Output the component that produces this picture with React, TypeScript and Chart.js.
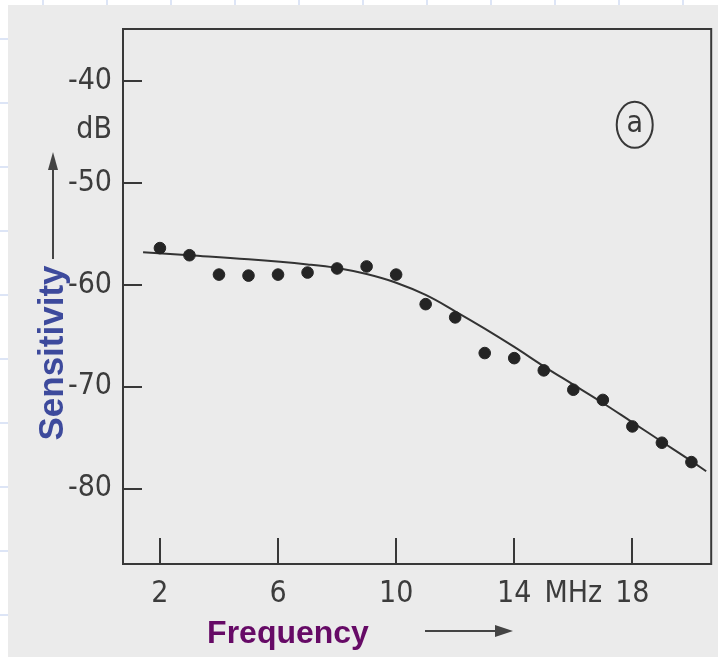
import React, { useEffect, useRef } from "react";
import { Chart, registerables } from "chart.js";

Chart.register(...registerables);

// ---- data ----
const freqMHz = [2, 3, 4, 5, 6, 7, 8, 9, 10, 11, 12, 13, 14, 15, 16, 17, 18, 19, 20];
const sensitivityDb = [
  -56.4, -57.1, -59.0, -59.1, -59.0, -58.8, -58.4, -58.2, -59.0, -61.9,
  -63.2, -66.7, -67.2, -68.4, -70.3, -71.3, -73.9, -75.5, -77.4,
];
const curveMHz = [1.43, 3, 5, 7, 8, 9, 10, 11, 12, 13, 14, 15, 16, 17, 18, 19, 20, 20.5];
const curveDb = [
  -56.8, -57.1, -57.5, -58.0, -58.35, -58.95, -59.8, -61.0, -62.6, -64.3,
  -66.1, -68.0, -69.8, -71.6, -73.5, -75.4, -77.3, -78.3,
];
const xTickValues = [2, 6, 10, 14, 18];
const xUnitValue = 16;
const xUnitLabel = "MHz";
const yTickValues = [-40, -50, -60, -70, -80];
const yUnitValue = -44.8;
const yUnitLabel = "dB";
const xRange = [0.75, 20.67];
const yRange = [-87.4, -34.9];
const panelLabel = "a";
const panelLabelAt = { x: 18.08, y: -44.3 };
const xTitle = "Frequency";
const yTitle = "Sensitivity";

const INK = "#383838";
const TICK_FONT = '"DejaVu Sans Condensed", "Liberation Sans Narrow", "Liberation Sans", sans-serif';

const framePlugin = {
  id: "framePlugin",
  afterDraw(chart: any) {
    const { ctx, chartArea, scales } = chart;
    const { left, right, top, bottom } = chartArea;
    const x = scales.x;
    const y = scales.y;
    ctx.save();
    ctx.strokeStyle = INK;
    ctx.lineWidth = 2;
    ctx.strokeRect(left, top, right - left, bottom - top);
    // inner tick marks
    yTickValues.forEach((v) => {
      const py = Math.round(y.getPixelForValue(v));
      ctx.beginPath();
      ctx.moveTo(left, py);
      ctx.lineTo(left + 19, py);
      ctx.stroke();
    });
    xTickValues.forEach((v) => {
      const px = Math.round(x.getPixelForValue(v));
      ctx.beginPath();
      ctx.moveTo(px, bottom);
      ctx.lineTo(px, bottom - 26);
      ctx.stroke();
    });
    // circled panel label
    const cx = x.getPixelForValue(panelLabelAt.x);
    const cy = y.getPixelForValue(panelLabelAt.y);
    ctx.beginPath();
    ctx.ellipse(cx, cy, 18, 23, 0, 0, Math.PI * 2);
    ctx.stroke();
    ctx.fillStyle = INK;
    ctx.font = `30px ${TICK_FONT}`;
    ctx.textAlign = "center";
    ctx.textBaseline = "middle";
    ctx.fillText(panelLabel, cx, cy - 1);

    // axis titles
    ctx.font = 'bold 35px "Liberation Sans", Arial, sans-serif';
    ctx.fillStyle = "#3d4a9c";
    ctx.save();
    ctx.translate(left - 60, top + 324);
    ctx.rotate(-Math.PI / 2);
    ctx.textAlign = "center";
    ctx.textBaseline = "alphabetic";
    ctx.fillText(yTitle, 0, 0);
    ctx.restore();

    ctx.font = 'bold 32px "Liberation Sans", Arial, sans-serif';
    ctx.fillStyle = "#660a66";
    ctx.textAlign = "center";
    ctx.textBaseline = "alphabetic";
    ctx.fillText(xTitle, left + 165, bottom + 79);

    // arrows
    ctx.strokeStyle = "#444444";
    ctx.fillStyle = "#444444";
    ctx.lineWidth = 2;
    const ax = left - 70;
    ctx.beginPath();
    ctx.moveTo(ax, top + 230);
    ctx.lineTo(ax, top + 135);
    ctx.stroke();
    ctx.beginPath();
    ctx.moveTo(ax, top + 123);
    ctx.lineTo(ax - 5, top + 141);
    ctx.lineTo(ax + 5, top + 141);
    ctx.closePath();
    ctx.fill();

    const ay = bottom + 67;
    ctx.beginPath();
    ctx.moveTo(left + 302, ay);
    ctx.lineTo(left + 376, ay);
    ctx.stroke();
    ctx.beginPath();
    ctx.moveTo(left + 390, ay);
    ctx.lineTo(left + 372, ay - 6);
    ctx.lineTo(left + 372, ay + 6);
    ctx.closePath();
    ctx.fill();
    ctx.restore();
  },
};

export default function App() {
  const canvasRef = useRef<HTMLCanvasElement | null>(null);

  useEffect(() => {
    const canvas = canvasRef.current;
    if (!canvas) return;
    const chart = new Chart(canvas, {
      type: "scatter",
      data: {
        datasets: [
          {
            label: "measured",
            data: freqMHz.map((f, i) => ({ x: f, y: sensitivityDb[i] })),
            backgroundColor: "#242424",
            borderColor: "#242424",
            pointRadius: 5.8,
            pointHoverRadius: 5.8,
            showLine: false,
            order: 0,
          },
          {
            label: "fit",
            data: curveMHz.map((f, i) => ({ x: f, y: curveDb[i] })),
            borderColor: "#333333",
            borderWidth: 2,
            pointRadius: 0,
            showLine: true,
            tension: 0.4,
            order: 1,
          } as any,
        ],
      },
      options: {
        animation: false,
        responsive: false,
        maintainAspectRatio: false,
        layout: { padding: { left: 0, top: 27, right: 6, bottom: 0 } },
        plugins: {
          legend: { display: false },
          tooltip: { enabled: false },
        },
        scales: {
          x: {
            type: "linear",
            min: xRange[0],
            max: xRange[1],
            border: { display: false },
            grid: { display: false, drawTicks: false, tickLength: 0 },
            afterBuildTicks: (scale: any) => {
              scale.ticks = [...xTickValues, xUnitValue]
                .sort((a, b) => a - b)
                .map((v) => ({ value: v }));
            },
            afterFit: (scale: any) => {
              scale.height = 93;
            },
            ticks: {
              autoSkip: false,
              maxRotation: 0,
              padding: 12,
              color: "#3c3c3c",
              font: { family: TICK_FONT, size: 30 },
              callback: (v: any) => (v === xUnitValue ? xUnitLabel : String(v)),
            },
          },
          y: {
            type: "linear",
            min: yRange[0],
            max: yRange[1],
            border: { display: false },
            grid: { display: false, drawTicks: false, tickLength: 0 },
            afterBuildTicks: (scale: any) => {
              scale.ticks = [...yTickValues, yUnitValue]
                .sort((a, b) => a - b)
                .map((v) => ({ value: v }));
            },
            afterFit: (scale: any) => {
              scale.width = 123;
            },
            ticks: {
              autoSkip: false,
              padding: 11,
              color: "#3c3c3c",
              font: { family: TICK_FONT, size: 30 },
              callback: (v: any) => (v === yUnitValue ? yUnitLabel : String(v)),
            },
          },
        },
      },
      plugins: [framePlugin],
    });
    return () => chart.destroy();
  }, []);

  return (
    <div
      style={{
        position: "fixed",
        left: 0,
        top: 0,
        width: 718,
        height: 657,
        backgroundColor: "#ffffff",
        backgroundImage:
          "repeating-linear-gradient(to right, transparent 0px, transparent 42px, #dde5f6 42px, #dde5f6 44px, transparent 44px, transparent 64px)," +
          "repeating-linear-gradient(to bottom, transparent 0px, transparent 38px, #dde5f6 38px, #dde5f6 40px, transparent 40px, transparent 64px)",
        overflow: "hidden",
      }}
    >
      <div
        style={{
          position: "absolute",
          left: 8,
          top: 5,
          right: 0,
          bottom: 0,
          background: "#ebebeb",
        }}
      />
      <canvas
        ref={canvasRef}
        width={718}
        height={657}
        style={{ position: "absolute", left: 0, top: 0, width: 718, height: 657 }}
      />
    </div>
  );
}
